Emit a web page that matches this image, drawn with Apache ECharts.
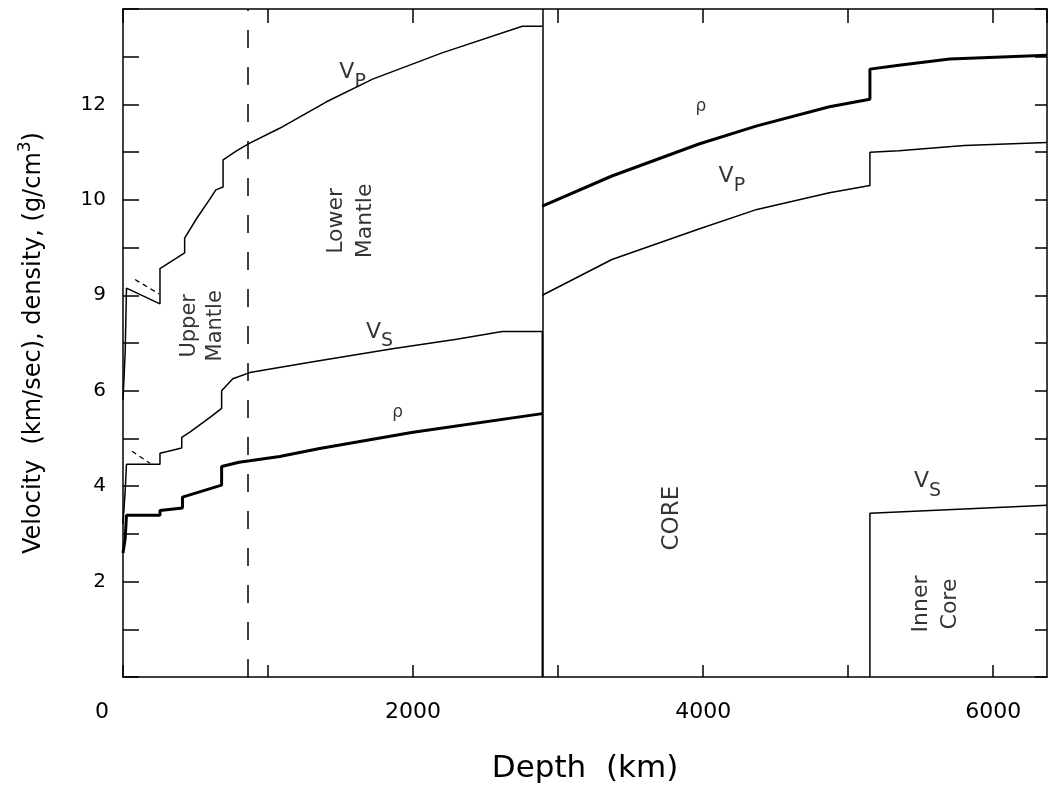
<!DOCTYPE html>
<html>
<head>
<meta charset="utf-8">
<script src="https://cdn.jsdelivr.net/npm/echarts@6/dist/echarts.min.js"></script>
<style>
  html, body { margin: 0; padding: 0; background: #fff; }
  #chart { width: 1048px; height: 793px; }
</style>
</head>
<body>
<div id="chart"></div>
<script>
// depth (km) / value pairs
var vpMantle = [[0,5.8],[15,6.8],[24,8.15],[255,7.82],[255,8.56],[425,8.89],[425,9.2],[510,9.62],[600,10.02],[640,10.21],[690,10.27],[690,10.84],[785,11.03],[874,11.19],[1080,11.5],[1400,12.05],[1721,12.53],[2200,13.08],[2753,13.64],[2891,13.64]];
var vpCore = [[2891,8.0],[3371,8.75],[3971,9.39],[4371,9.8],[4871,10.15],[5150,10.3],[5150,11.0],[5350,11.03],[5800,11.14],[6371,11.2]];
var vsMantle = [[0,3.2],[15,3.9],[24,4.46],[255,4.46],[255,4.69],[405,4.8],[405,5.02],[461,5.13],[600,5.44],[680,5.63],[680,6.0],[757,6.25],[874,6.38],[1300,6.6],[1858,6.88],[2300,7.08],[2615,7.24],[2891,7.24],[2891,0]];
var vsInner = [[5150,0],[5150,3.43],[6371,3.6]];
var rhoMantle = [[0,2.6],[15,2.9],[24,3.39],[255,3.39],[255,3.49],[410,3.54],[410,3.77],[680,4.02],[680,4.41],[800,4.5],[874,4.53],[1080,4.62],[1356,4.79],[2000,5.13],[2891,5.52]];
var rhoCore = [[2891,9.87],[3371,10.5],[3971,11.17],[4371,11.55],[4871,11.95],[5150,12.11],[5150,12.74],[5350,12.82],[5700,12.95],[6371,13.03]];
var vpDashed = [[83,8.33],[248,8.03]];
var vsDashed = [[62,4.73],[186,4.48]];
var boundaryDepths = [2891];
var mantleSplitDepth = [860];
var xTickLabels = {0:'{z|0}', 2000:'2000', 4000:'4000', 6000:'6000'};
var yTickLabels = {2:'2', 4:'4', 6:'6', 8:'9', 10:'10', 12:'12'};

var FONT = 'DejaVu Sans';
var myChart = echarts.init(document.getElementById('chart'));

// text placed in data coordinates
var notes = [
  {t: '{v|V}{s|P}', x: 1583, y: 12.59, r: 0},
  {t: '{v|V}{s|S}', x: 1769, y: 7.15, r: 0},
  {t: '{g|ρ}', x: 1893, y: 5.54, r: 0},
  {t: '{g|ρ}', x: 3985, y: 11.95, r: 0},
  {t: '{v|V}{s|P}', x: 4198, y: 10.4, r: 0},
  {t: '{v|V}{s|S}', x: 5547, y: 4.02, r: 0},
  {t: '{a|Upper}\n{a|Mantle}', x: 551, y: 7.36, r: 90},
  {t: '{b|Lower}\n{b|Mantle}', x: 1569, y: 9.56, r: 90},
  {t: '{c|CORE}', x: 3785, y: 3.33, r: 90},
  {t: '{b|Inner}\n{b|Core}', x: 5602, y: 1.53, r: 90}
];

function curve(data, width, dashed) {
  return {
    type: 'line',
    data: data,
    symbol: 'none',
    silent: true,
    animation: false,
    lineStyle: {color: '#000', width: width, type: dashed ? [5, 4] : 'solid'}
  };
}

var series = [
  curve(vpMantle, 1.5),
  curve(vpCore, 1.5),
  curve(vsMantle, 1.5),
  curve(vsInner, 1.5),
  curve(rhoMantle, 3),
  curve(rhoCore, 3),
  curve(vpDashed, 1.3, true),
  curve(vsDashed, 1.3, true),
  {
    type: 'line',
    data: [],
    markLine: {
      silent: true,
      symbol: 'none',
      animation: false,
      label: {show: false},
      data: boundaryDepths.map(function (d) {
        return {xAxis: d, lineStyle: {color: '#000', width: 1.5, type: 'solid'}};
      }).concat(mantleSplitDepth.map(function (d) {
        return {xAxis: d, lineStyle: {color: '#000', width: 1.5, type: [18, 19]}};
      }))
    }
  },
  {
    type: 'scatter',
    symbolSize: 1,
    silent: true,
    animation: false,
    itemStyle: {color: 'rgba(0,0,0,0)'},
    data: notes.map(function (n) {
      return {
        value: [n.x, n.y],
        label: {
          show: true,
          position: 'inside',
          rotate: n.r,
          formatter: n.t,
          color: '#000',
          fontFamily: FONT,
          rich: {
            v: {fontSize: 22, fontFamily: FONT, color: '#000', verticalAlign: 'top', lineHeight: 30},
            s: {fontSize: 19, fontFamily: FONT, color: '#000', verticalAlign: 'bottom', lineHeight: 30},
            g: {fontSize: 17, fontFamily: FONT, color: '#000'},
            a: {fontSize: 21, fontFamily: FONT, color: '#000', lineHeight: 26},
            b: {fontSize: 22, fontFamily: FONT, color: '#000', lineHeight: 29},
            c: {fontSize: 23, fontFamily: FONT, color: '#000'}
          }
        }
      };
    })
  }
];

var axisLine = {show: true, onZero: false, lineStyle: {color: '#000', width: 1.5}};

myChart.setOption({
  backgroundColor: '#fff',
  animation: false,
  grid: {left: 123, top: 9, width: 924, height: 668},
  xAxis: [
    {
      type: 'value', min: 0, max: 6371, interval: 1000, position: 'bottom',
      axisLine: axisLine,
      axisTick: {show: true, inside: true, length: 12, lineStyle: {color: '#000', width: 1.5}},
      splitLine: {show: false},
      axisLabel: {
        showMaxLabel: false, margin: 24, color: '#000', fontFamily: FONT, fontSize: 22,
        formatter: function (v) { return xTickLabels[v] || ''; },
        rich: {z: {fontSize: 22, fontFamily: FONT, color: '#000', padding: [0, 42, 0, 0]}}
      },
      name: 'Depth  (km)', nameLocation: 'middle', nameGap: 76,
      nameTextStyle: {color: '#000', fontFamily: FONT, fontSize: 31}
    },
    {
      type: 'value', min: 0, max: 6371, interval: 1000, position: 'top',
      axisLine: axisLine,
      axisTick: {show: true, inside: true, length: 14, lineStyle: {color: '#000', width: 1.5}},
      splitLine: {show: false},
      axisLabel: {show: false}
    }
  ],
  yAxis: [
    {
      type: 'value', min: 0, max: 14, interval: 1, position: 'left',
      axisLine: axisLine,
      axisTick: {show: true, inside: true, length: 16, lineStyle: {color: '#000', width: 1.5}},
      splitLine: {show: false},
      axisLabel: {
        margin: 17, color: '#000', fontFamily: FONT, fontSize: 20,
        formatter: function (v) { return yTickLabels[v] || ''; }
      },
      name: 'Velocity  (km/sec), density, (g/cm{sup|3})',
      nameLocation: 'middle', nameRotate: 90, nameGap: 73,
      nameTextStyle: {
        color: '#000', fontFamily: FONT, fontSize: 24,
        rich: {sup: {fontSize: 17, fontFamily: FONT, color: '#000', verticalAlign: 'top', lineHeight: 33}}
      }
    },
    {
      type: 'value', min: 0, max: 14, interval: 1, position: 'right',
      axisLine: axisLine,
      axisTick: {show: true, inside: true, length: 12, lineStyle: {color: '#000', width: 1.5}},
      splitLine: {show: false},
      axisLabel: {show: false}
    }
  ],
  series: series
});
</script>
</body>
</html>
